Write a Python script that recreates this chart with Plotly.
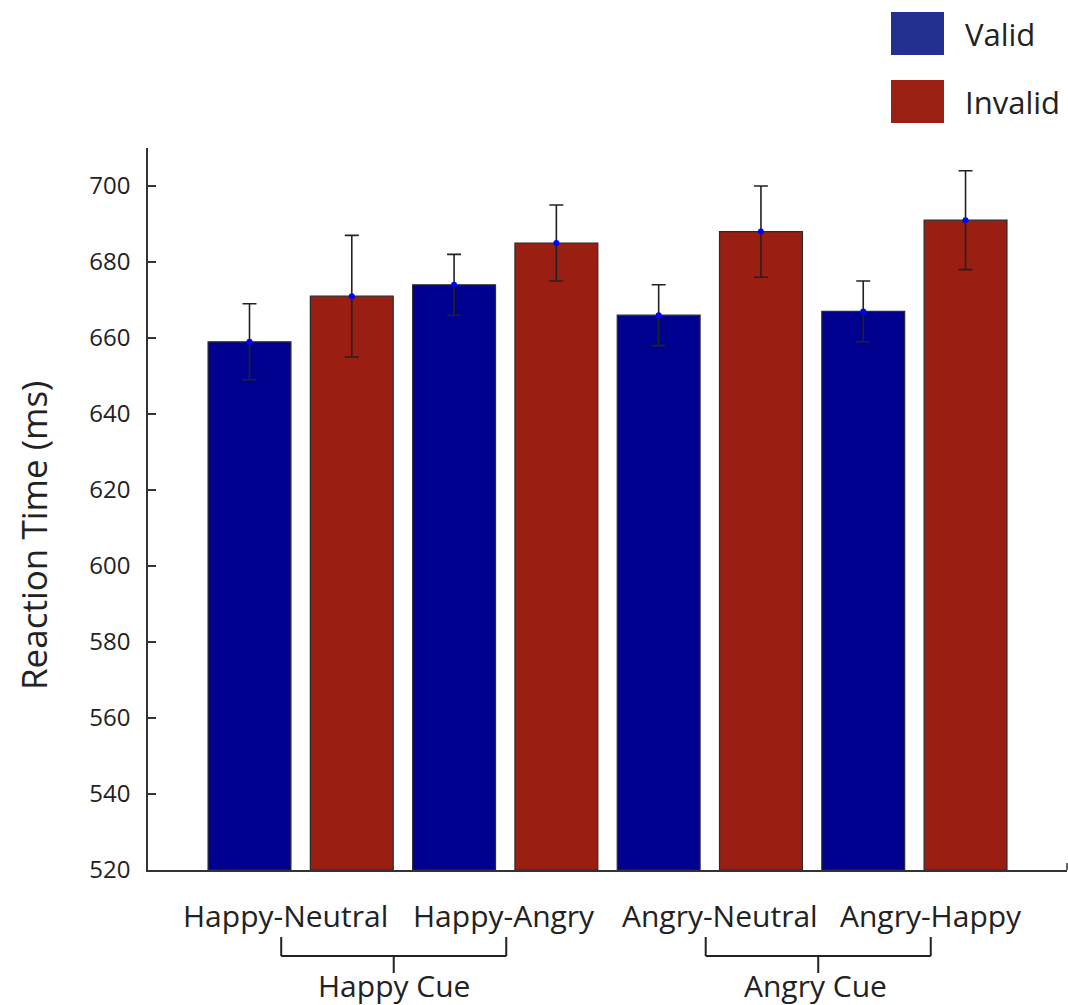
import plotly.graph_objects as go

# Conditions (cue-target pairings) and their reaction times in ms
pairings = ["Happy-Neutral", "Happy-Angry", "Angry-Neutral", "Angry-Happy"]
cue_groups = ["Happy Cue", "Angry Cue"]

valid_rt = [659, 674, 666, 667]
valid_err = [10, 8, 8, 8]
invalid_rt = [671, 685, 688, 691]
invalid_err = [16, 10, 12, 13]

y_ticks = [520, 540, 560, 580, 600, 620, 640, 660, 680, 700]

# Bar positions: valid/invalid alternate along the axis
valid_x = [1, 3, 5, 7]
invalid_x = [2, 4, 6, 8]

FONT = "Open Sans, Noto Sans, DejaVu Sans, sans-serif"
BLUE = "#00008f"
RED = "#9a1f12"
EDGE = "#2a2a2a"
AXIS = "#333333"

fig = go.Figure()

for xs, ys, es, color, name in [
    (valid_x, valid_rt, valid_err, BLUE, "Valid"),
    (invalid_x, invalid_rt, invalid_err, RED, "Invalid"),
]:
    fig.add_trace(go.Bar(
        x=xs, y=[v - 520 for v in ys], base=520, width=0.81,
        marker=dict(color=color, line=dict(color=EDGE, width=1.2)),
        name=name, showlegend=False,
        error_y=dict(type="data", array=es, symmetric=True,
                     color="#222222", thickness=1.6, width=7),
    ))
    fig.add_trace(go.Scatter(
        x=xs, y=ys, mode="markers",
        marker=dict(color="#0000ff", size=6),
        showlegend=False, hoverinfo="skip",
    ))

# Legend swatches drawn as shapes in pixel-aligned paper space
W, H = 1068, 1005
L, R, T, B = 148, 1, 148, 135
pw, ph = W - L - R, H - T - B


def px(xp):
    return (xp - L) / pw


def py(yp):
    return (H - B - yp) / ph


shapes = []
annotations = []
for (y0, y1, color, label) in [(12, 55, "#24308f", "Valid"), (80, 123, "#9a2014", "Invalid")]:
    shapes.append(dict(type="rect", xref="paper", yref="paper",
                       x0=px(891), x1=px(944), y0=py(y1), y1=py(y0),
                       fillcolor=color, line=dict(width=0)))
    annotations.append(dict(xref="paper", yref="paper", x=px(963), y=py((y0 + y1) / 2),
                            text=label, showarrow=False, xanchor="left", yanchor="middle",
                            font=dict(family=FONT, size=31, color="#222222")))

# Pairing labels beneath the axis
label_x = [1.35, 3.49, 5.6, 7.66]
for lx, text in zip(label_x, pairings):
    annotations.append(dict(xref="x", yref="paper", x=lx, y=py(915), text=text,
                            showarrow=False, xanchor="center", yanchor="middle",
                            font=dict(family=FONT, size=30, color="#222222")))

# Brackets grouping pairings by cue
brackets = [(1.31, 3.51, 2.41, 2.41), (5.46, 7.66, 6.56, 6.53)]
for (xa, xb, xc, xt), cue in zip(brackets, cue_groups):
    path_line = dict(color="#222222", width=2)
    shapes.append(dict(type="line", xref="x", yref="paper", x0=xa, x1=xa,
                       y0=py(937), y1=py(956), line=path_line))
    shapes.append(dict(type="line", xref="x", yref="paper", x0=xb, x1=xb,
                       y0=py(937), y1=py(956), line=path_line))
    shapes.append(dict(type="line", xref="x", yref="paper", x0=xa, x1=xb,
                       y0=py(956), y1=py(956), line=path_line))
    shapes.append(dict(type="line", xref="x", yref="paper", x0=xc, x1=xc,
                       y0=py(956), y1=py(973), line=path_line))
    annotations.append(dict(xref="x", yref="paper", x=xt, y=py(985), text=cue,
                            showarrow=False, xanchor="center", yanchor="middle",
                            font=dict(family=FONT, size=30, color="#222222")))

# Small end tick at the right of the x axis
shapes.append(dict(type="line", xref="paper", yref="paper", x0=1, x1=1,
                   y0=0, y1=py(863), line=dict(color=AXIS, width=1.5)))

# Y axis title
annotations.append(dict(xref="paper", yref="paper", x=px(33), y=py(536),
                        text="Reaction Time (ms)", textangle=-90, showarrow=False,
                        xanchor="center", yanchor="middle",
                        font=dict(family=FONT, size=35, color="#222222")))

fig.update_layout(
    width=W, height=H,
    margin=dict(l=L, r=R, t=T, b=B),
    plot_bgcolor="white", paper_bgcolor="white",
    barmode="overlay",
    shapes=shapes, annotations=annotations,
    font=dict(family=FONT, color="#222222"),
    xaxis=dict(range=[0.0077, 8.992], showticklabels=False, ticks="",
               showgrid=False, zeroline=False, showline=True,
               linecolor=AXIS, linewidth=1.5),
    yaxis=dict(range=[520, 710], tickvals=y_ticks, ticks="inside",
               ticklen=8, tickwidth=1.5, tickcolor=AXIS,
               ticklabelstandoff=11,
               showgrid=False, zeroline=False, showline=True,
               linecolor=AXIS, linewidth=1.5,
               tickfont=dict(family=FONT, size=24, color="#222222")),
)

fig.write_html("out.html")
